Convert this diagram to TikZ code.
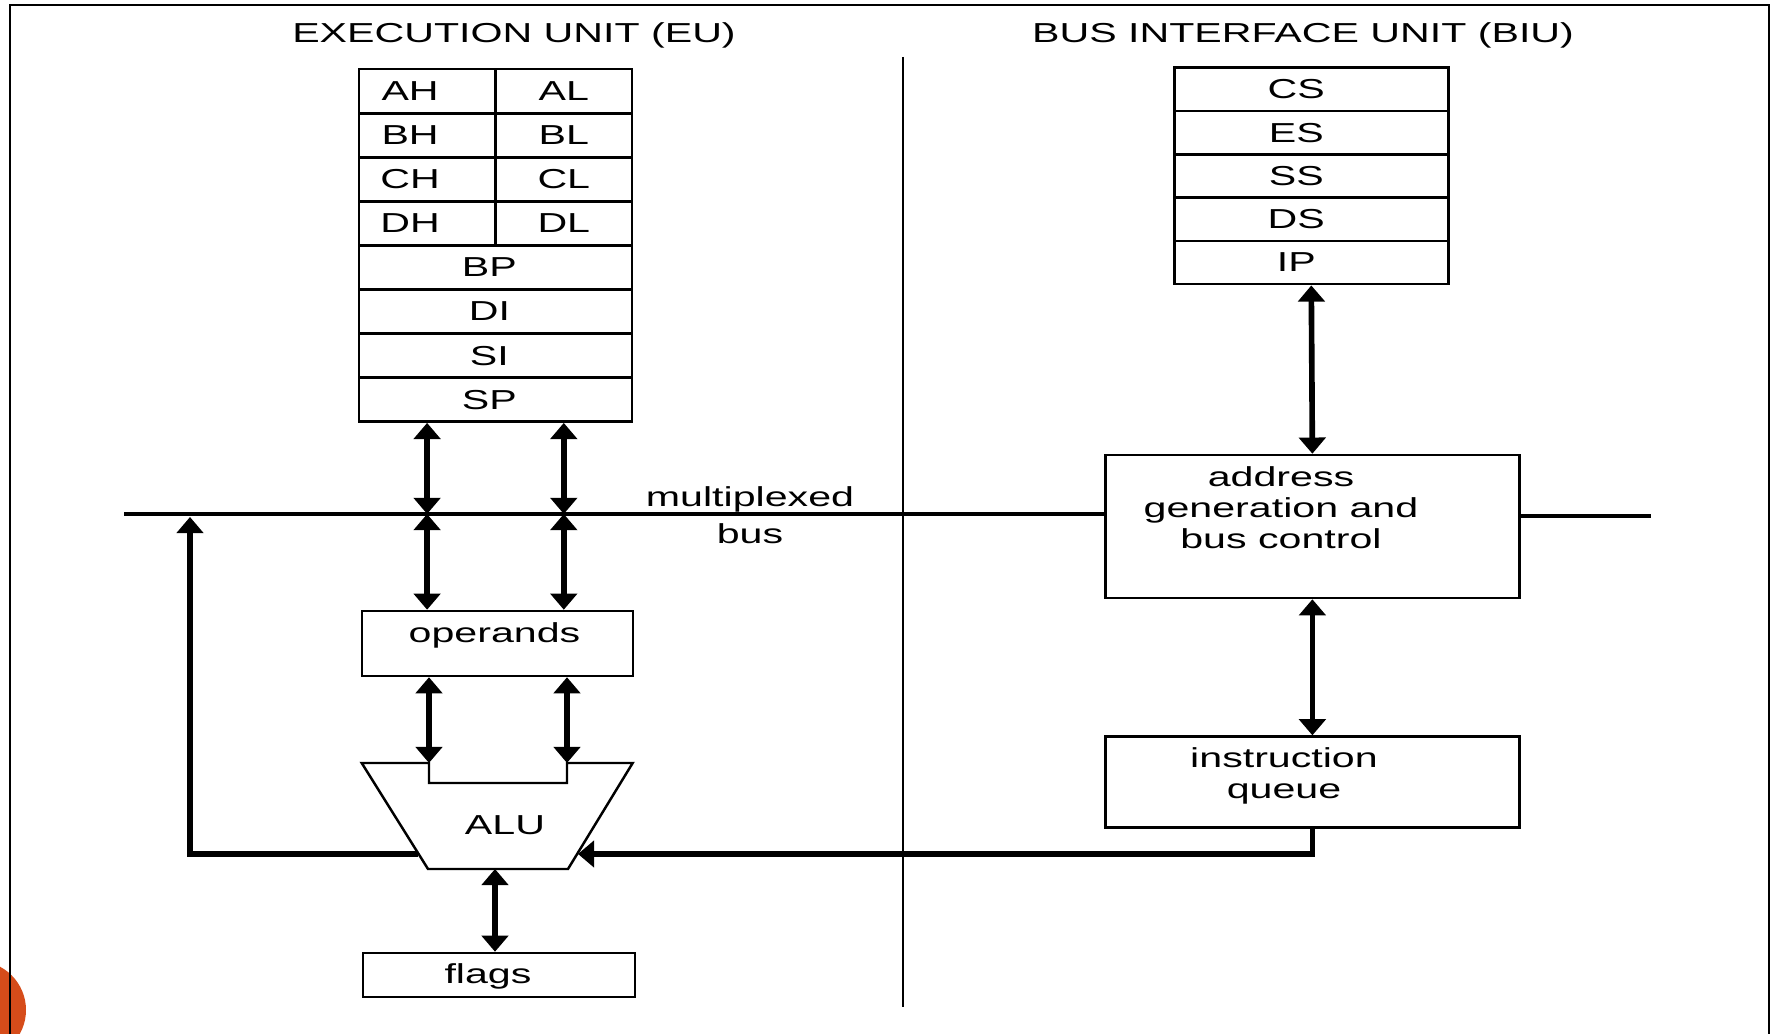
\documentclass[tikz,border=0pt]{standalone}
\usepackage{fontspec}
\setmainfont{Liberation Sans}[FakeStretch=1.5]
\usetikzlibrary{arrows.meta}
\definecolor{slideorange}{RGB}{214,76,26}
\tikzset{
  reg/.style={draw, line width=0.7pt, minimum width=1.366cm, minimum height=0.4405cm, inner sep=0pt},
  hreg/.style={reg, execute at begin node={\hspace*{-0.34cm}}},
  wreg/.style={reg, minimum width=2.727cm, execute at begin node={\hspace*{-0.12cm}}},
  sreg/.style={reg, minimum width=2.739cm, minimum height=0.433cm, execute at begin node={\hspace*{-0.3cm}}},
  blk/.style={draw, line width=0.7pt, inner sep=0pt},
  link/.style={line width=1.6pt, {Triangle[width=7.5pt,length=4.6pt]}-{Triangle[width=7.5pt,length=4.6pt]}},
  feed/.style={line width=1.6pt, -{Triangle[width=7.5pt,length=4.6pt]}},
}
\begin{document}
\begin{tikzpicture}[x=0.01cm, y=-0.01cm, every node/.style={font=\fontsize{7.8}{8.8}\selectfont}]
  \useasboundingbox (0,0) rectangle (1771,1034);
  \begin{scope}
    \clip (0,0) rectangle (1771,1034);
    \fill[slideorange] (-23,1010) circle (49);
  \end{scope}
  \draw[line width=0.7pt] (10,1034) -- (10,5) -- (1769,5) -- (1769,1034);
  \draw[line width=0.4pt] (903,57) -- (903,1007);
  \node at (514,35) {EXECUTION UNIT (EU)};
  \node at (1303,35) {BUS INTERFACE UNIT (BIU)};

  \foreach \hi/\lo [count=\i from 0] in {AH/AL,BH/BL,CH/CL,DH/DL} {
    \node[hreg] (\hi) at (427.1,{91.3+44.05*\i}) {\hi};
    \node[reg] (\lo) at (563.8,{91.3+44.05*\i}) {\lo};
  }
  \foreach \r [count=\i from 4] in {BP,DI,SI,SP}
    \node[wreg] (\r) at (495.4,{91.3+44.05*\i}) {\r};
  \foreach \r [count=\i from 0] in {CS,ES,SS,DS,IP}
    \node[sreg] (\r) at (1311.3,{89.35+43.3*\i}) {\r};

  \node[blk, minimum width=4.136cm, minimum height=1.43cm] (agen) at (1312.4,526.5) {};
  \node[inner sep=0pt, align=center] at (1281,507.5) {address\\generation and\\bus control};
  \node[blk, minimum width=4.136cm, minimum height=0.908cm] (queue) at (1312.4,782) {};
  \node[inner sep=0pt, align=center] at (1284,776) {instruction\\queue};
  \node[blk, minimum width=2.71cm, minimum height=0.65cm] (ops) at (497.5,643.5) {};
  \node[inner sep=0pt] at (494.5,635) {operands};
  \node[blk, minimum width=2.72cm, minimum height=0.44cm] (flags) at (499,975) {};
  \node[inner sep=0pt] at (488,976) {flags};

  \coordinate (aluNL) at (429,763);
  \coordinate (aluNR) at (567,763);
  \draw[line width=0.7pt] (361.7,763) -- (aluNL) -- (429,783) -- (567,783) -- (aluNR)
    -- (632.7,763) -- (568,869) -- (428,869) -- cycle;
  \node (alu) at (505,825) {ALU};
  \coordinate (aluL) at (418,854);
  \coordinate (aluR) at (578,854);
  \coordinate (aluB) at (495,869);

  \coordinate (busL) at (124,514);
  \coordinate (busR) at (1651,516);
  \coordinate (fbup) at (190,517);
  \draw[line width=1.3pt] (busL) -- (busL -| agen.west);
  \draw[line width=1.3pt] (agen.east |- busR) -- (busR);
  \node[align=center, inner sep=0pt] (mux) at (750,515) {multiplexed\\[1.6pt]bus};

  \foreach \c in {AH,AL} {
    \draw[link] (\c |- SP.south) -- (\c |- busL);
    \draw[link] (\c |- busL) -- (\c |- ops.north);
  }
  \draw[link] (ops.south -| aluNL) -- (aluNL);
  \draw[link] (ops.south -| aluNR) -- (aluNR);
  \draw[link] (aluB) -- (aluB |- flags.north);
  \draw[feed] (aluL) -| (fbup);
  \draw[feed] (queue.south) |- (aluR);
  \draw[link] (IP.south) -- (agen.north);
  \draw[link] (agen.south) -- (queue.north);
\end{tikzpicture}
\end{document}
